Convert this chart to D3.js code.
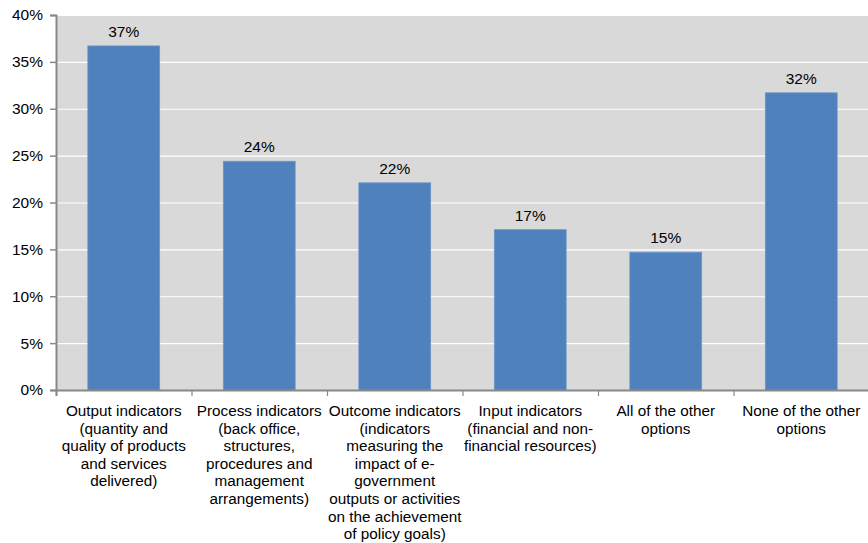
<!DOCTYPE html>
<html><head><meta charset="utf-8">
<script src="https://cdn.jsdelivr.net/npm/d3@7"></script>
<style>body{margin:0;background:#fff}svg{display:block}text{font-family:"Liberation Sans",Arial,sans-serif;fill:#000}</style>
</head><body><svg id="c" width="868" height="543"></svg>
<script>
const categories = [
  ["Output indicators","(quantity and","quality of products","and services","delivered)"],
  ["Process indicators","(back office,","structures,","procedures and","management","arrangements)"],
  ["Outcome indicators","(indicators","measuring the","impact of e-","government","outputs or activities","on the achievement","of policy goals)"],
  ["Input indicators","(financial and non-","financial resources)"],
  ["All of the other","options"],
  ["None of the other","options"]
];
const values = [36.7, 24.4, 22.1, 17.1, 14.7, 31.7];
const yTicks = [0,5,10,15,20,25,30,35,40];

const svg = d3.select("#c");
const m = {l:56, r:-1, t:15, b:153};
const W = 868, H = 543;
const x = d3.scaleBand().domain(d3.range(categories.length)).range([m.l, W - m.r]).paddingInner(0.47).paddingOuter(0.235);
const xb = d3.scaleLinear().domain([0, categories.length]).range([m.l, W - m.r]);
const y = d3.scaleLinear().domain([0,40]).range([H - m.b, m.t]);

svg.append("rect").attr("x", m.l).attr("y", m.t).attr("width", W - m.r - m.l).attr("height", y(0) - m.t).attr("fill", "#d9d9d9");

svg.append("g").selectAll("line").data(yTicks.filter(d=>d>0)).join("line")
  .attr("x1", m.l).attr("x2", W).attr("y1", d=>y(d)+0.5).attr("y2", d=>y(d)+0.5)
  .attr("stroke", "#fff").attr("stroke-width", 1.2);

svg.append("g").selectAll("rect").data(values).join("rect")
  .attr("x", (d,i)=>x(i)).attr("width", x.bandwidth())
  .attr("y", d=>y(d)).attr("height", d=>y(0)-y(d))
  .attr("fill", "#4f81bd").attr("stroke", "#6c96c8").attr("stroke-width", 0.8);

svg.append("g").selectAll("text").data(values).join("text")
  .attr("x", (d,i)=>x(i)+x.bandwidth()/2).attr("y", d=>y(d)-9)
  .attr("text-anchor","middle").attr("font-size", 15.5)
  .text(d=>Math.round(d)+"%");

// y axis
const ya = svg.append("g").attr("transform", `translate(${m.l},0)`)
  .call(d3.axisLeft(y).tickValues(yTicks).tickFormat(d=>d+"%").tickSize(6).tickPadding(5));
ya.select(".domain").attr("stroke","#888").attr("stroke-width",2);
ya.selectAll(".tick line").attr("stroke","#888").attr("stroke-width",1.5);
ya.selectAll(".tick text").attr("font-size",15.5).attr("font-family","Liberation Sans, Arial, sans-serif").attr("fill","#000").attr("dx",-2);

// x axis
const xa = svg.append("g").attr("transform", `translate(0,${y(0)})`)
  .call(d3.axisBottom(xb).tickValues(d3.range(categories.length+1)).tickFormat("").tickSize(6));
xa.select(".domain").attr("stroke","#888").attr("stroke-width",2);
xa.selectAll(".tick line").attr("stroke","#888").attr("stroke-width",1.2);

// category labels
const lab = svg.append("g").selectAll("text").data(categories).join("text")
  .attr("text-anchor","middle").attr("font-size",15.3)
  .attr("x",(d,i)=>x(i)+x.bandwidth()/2).attr("y", y(0)+26);
lab.selectAll("tspan").data(d=>d).join("tspan")
  .attr("x", function(){return d3.select(this.parentNode).attr("x");})
  .attr("dy",(d,i)=>i===0?0:17.6).text(d=>d);
</script></body></html>
